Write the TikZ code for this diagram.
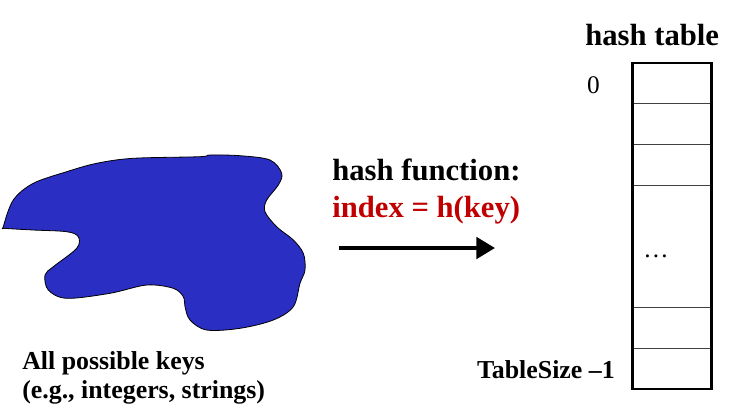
\documentclass[tikz,border=0pt]{standalone}
\usepackage{fontspec}
\setmainfont{Liberation Serif}
\usepackage{xcolor}
\usetikzlibrary{arrows.meta, positioning, fit}

\definecolor{keyblue}{RGB}{42,46,195}
\definecolor{fnred}{RGB}{192,0,0}

\begin{document}
\begin{tikzpicture}[
    x=0.75pt, y=-0.75pt,
    title/.style={anchor=base west, inner sep=0pt, font=\fontsize{23}{27}\selectfont\bfseries},
    caption/.style={anchor=base west, inner sep=0pt, font=\fontsize{19.4}{22}\selectfont\bfseries},
    index/.style={inner sep=0pt, font=\fontsize{19}{22}\selectfont},
    slot/.style={rectangle, draw=black!75, line width=0.7pt, minimum width=59.5pt, minimum height=30.7pt, inner sep=0pt, outer sep=0pt},
    arrow/.style={-{Triangle[length=14pt, width=16pt]}, line width=3pt}
]
\useasboundingbox (0,0) rectangle (734,419);

% set of all keys
\draw[fill=keyblue, line width=0.6pt] plot[smooth cycle, tension=0.55] coordinates {
    (3.3,226.7) (13.3,200) (33.3,183.3) (66.7,171.7) (96.7,163.3) (133.3,158.3)
    (200,156.7) (210,155) (240,155.7) (270,160) (281.7,173.3) (278.3,185)
    (266.7,200) (265,211.7) (276.7,226.7) (293.3,240) (303.3,253.3) (305,270)
    (300,283.3) (293.3,306.7) (273.3,320) (240,328.3) (206.7,330) (190,320)
    (185,306.7) (183.3,296.7) (173.3,288.3) (146.7,285) (110,293.3) (66.7,298.3)
    (48.3,290) (45,275) (53.3,266.7) (76.7,248.3) (78.3,236.7) (66.7,231.7)
    (33.3,230) (5,228.3)};

\node[caption] (keys) at (22,369) {All possible keys};
\node[caption] (keysnote) at (22,398) {(e.g., integers, strings)};

% hash function
\node[title] (hashfn) at (332,180) {hash function:};
\node[title, text=fnred] (indexfn) at (332,217) {index = h(key)};

\coordinate (fnstart) at (339,248);
\coordinate (fnend) at (495,248);
\draw[arrow] (fnstart) -- (fnend);

% table
\node[title] (tabletitle) at (585,45) {hash table};

\node[slot] (slot0) at (672,83.4) {};
\node[slot, below=0pt of slot0] (slot1) {};
\node[slot, below=0pt of slot1] (slot2) {};
\node[slot, below=0pt of slot2, minimum height=91.2pt] (slotdots) {};
\node[slot, below=0pt of slotdots] (slotm2) {};
\node[slot, below=0pt of slotm2] (slotlast) {};
\node[fit=(slot0)(slotlast), draw, line width=1.9pt, inner sep=0pt] (table) {};

\node[index, anchor=base] (dots) at (656,257) {…};
\node[index, anchor=base east] (first) at (600,93) {0};
\node[caption, anchor=base east] (last) at (615,378) {TableSize –1};

\end{tikzpicture}
\end{document}
